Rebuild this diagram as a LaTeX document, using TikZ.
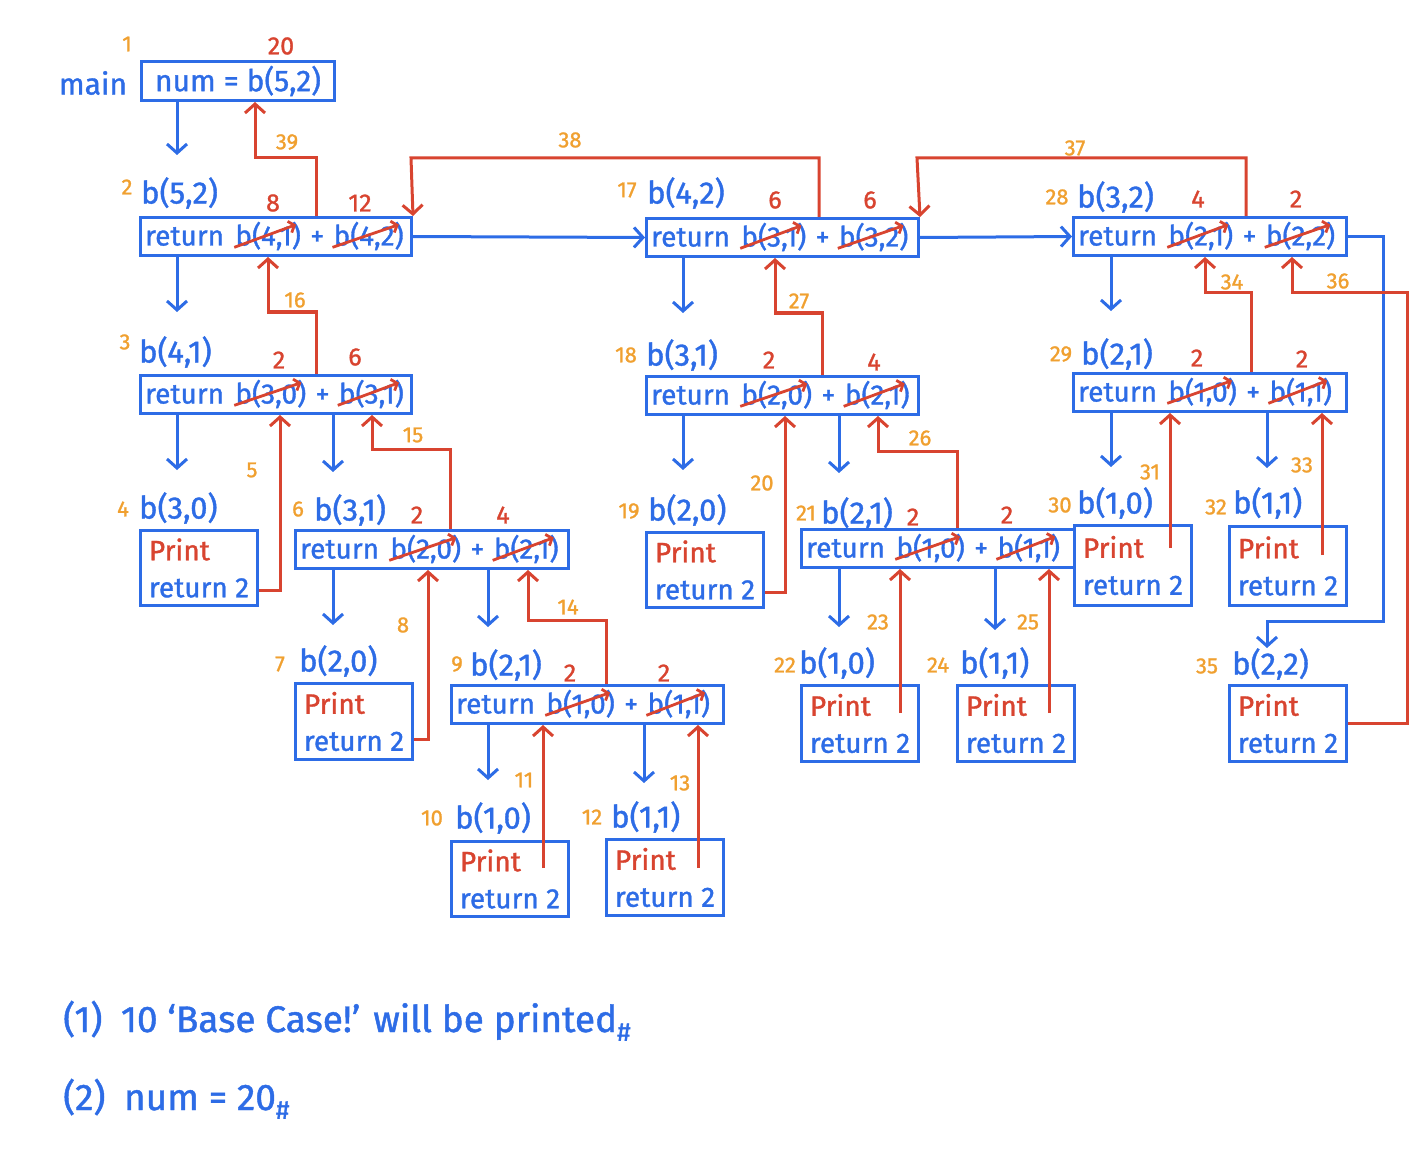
\documentclass[tikz,border=0pt]{standalone}
\usepackage{fontspec}
\setmainfont{Fira Sans}[FakeBold=1.2]
\usetikzlibrary{arrows.meta}
\definecolor{pblue}{RGB}{45,108,230}
\definecolor{pred}{RGB}{216,68,48}
\definecolor{porange}{RGB}{240,160,48}
\newcommand\mkcall[6]{%
  \node[cbox, minimum width=#4pt] (#1) at (#2,#3) {};
  \node[ctext] (#1r) at ([xshift=6pt,yshift=-9pt]#1.west) {return};
  \node[ctext] (#1a) at ([xshift=11pt]#1r.base east) {b(#5)};
  \node[ctext] (#1p) at ([xshift=9pt]#1a.base east) {+};
  \node[ctext] (#1b) at ([xshift=9pt]#1p.base east) {b(#6)};
  \draw[strike] ([xshift=-1pt,yshift=3pt]#1a.south west) -- ([xshift=-5pt,yshift=-3pt]#1a.north east);
  \draw[strike] ([xshift=-1pt,yshift=3pt]#1b.south west) -- ([xshift=-5pt,yshift=-3pt]#1b.north east);
}
\newcommand\mkprint[5]{%
  \node[pbox, minimum width=#4pt, minimum height=#5pt] (#1) at (#2,#3) {\textcolor{pred}{Print}\\return 2};
}
\begin{document}
\begin{tikzpicture}[x=1pt,y=-1pt,
  cbox/.style={draw=pblue, line width=3pt, inner sep=0pt, minimum height=38pt, anchor=north west, text=pblue, font=\fontsize{28}{30}\selectfont},
  ctext/.style={text=pblue, font=\fontsize{28}{30}\selectfont, inner sep=0pt, anchor=base west},
  pbox/.style={draw=pblue, line width=3pt, inner sep=0pt, anchor=north west, align=left, text=pblue, font=\fontsize{28}{37}\selectfont},
  hdr/.style={text=pblue, font=\fontsize{31}{33}\selectfont, inner sep=0pt, anchor=west},
  stp/.style={text=porange, font=\fontsize{22}{24}\selectfont, inner sep=0pt},
  res/.style={text=pred, font=\fontsize{25}{27}\selectfont, inner sep=0pt},
  note/.style={text=pblue, font=\fontsize{37}{40}\selectfont, inner sep=0pt, anchor=base west},
  callarr/.style={draw=pblue, line width=3pt, -{Straight Barb[length=9pt,width=20pt]}},
  retarr/.style={draw=pred, line width=3pt, -{Straight Barb[length=9pt,width=20pt]}},
  strike/.style={draw=pred, line width=2.8pt, -{Straight Barb[length=5pt,width=12pt]}}
]
\useasboundingbox (0,0) rectangle (1424,1150);

% ---------- main ----------
\node[cbox, minimum width=193pt, minimum height=39pt, font=\fontsize{30}{32}\selectfont] (main) at (140,60) {num = b(5,2)};
\node[hdr, anchor=center, font=\fontsize{30}{32}\selectfont] (mainlbl) at (93,83) {main};
\node[stp] (n1) at (127,44) {1};
\node[res] (v1) at (281,46) {20};

% ---------- call boxes ----------
\mkcall{B2}{139}{216}{271}{4,1}{4,2}
\mkcall{B17}{645}{217}{272}{3,1}{3,2}
\mkcall{B28}{1072}{216}{273}{2,1}{2,2}
\mkcall{B3}{139}{374}{271}{3,0}{3,1}
\mkcall{B18}{645}{375}{272}{2,0}{2,1}
\mkcall{B29}{1072}{372}{273}{1,0}{1,1}
\mkcall{B6}{294}{529}{273}{2,0}{2,1}
\mkcall{B21}{800}{528}{273}{1,0}{1,1}
\mkcall{B9}{450}{684}{272}{1,0}{1,1}

% ---------- print boxes ----------
\mkprint{B4}{139}{529}{117}{75}
\mkprint{B19}{645}{531}{117}{75}
\mkprint{B30}{1073}{524}{117}{80}
\mkprint{B32}{1228}{525}{117}{79}
\mkprint{B7}{294}{682}{117}{76}
\mkprint{B22}{800}{684}{117}{76}
\mkprint{B24}{956}{684}{117}{76}
\mkprint{B35}{1228}{684}{117}{76}
\mkprint{B10}{450}{840}{117}{75}
\mkprint{B12}{605}{838}{117}{76}

% ---------- headers ----------
\node[hdr] (H2) at (141,193) {b(5,2)};   \node[stp] (n2) at (127,187) {2};
\node[hdr] (H17) at (647,193) {b(4,2)};  \node[stp] (n17) at (627,190) {17};
\node[hdr] (H28) at (1077,197) {b(3,2)}; \node[stp] (n28) at (1057,197) {28};
\node[hdr] (H3) at (139,352) {b(4,1)};   \node[stp] (n3) at (125,342) {3};
\node[hdr] (H18) at (646,355) {b(3,1)};  \node[stp] (n18) at (626,355) {18};
\node[hdr] (H29) at (1081,354) {b(2,1)}; \node[stp] (n29) at (1061,354) {29};
\node[hdr] (H4) at (139,508) {b(3,0)};   \node[stp] (n4) at (123,509) {4};
\node[hdr] (H6) at (314,510) {b(3,1)};   \node[stp] (n6) at (298,509) {6};
\node[hdr] (H19) at (648,510) {b(2,0)};  \node[stp] (n19) at (629,511) {19};
\node[hdr] (H21) at (821,513) {b(2,1)};  \node[stp] (n21) at (806,513) {21};
\node[hdr] (H30) at (1077,503) {b(1,0)}; \node[stp] (n30) at (1060,505) {30};
\node[hdr] (H32) at (1233,503) {b(1,1)}; \node[stp] (n32) at (1216,507) {32};
\node[hdr] (H7) at (299,661) {b(2,0)};   \node[stp] (n7) at (280,664) {7};
\node[hdr] (H9) at (470,665) {b(2,1)};   \node[stp] (n9) at (457,664) {9};
\node[hdr] (H22) at (799,663) {b(1,0)};  \node[stp] (n22) at (785,665) {22};
\node[hdr] (H24) at (960,663) {b(1,1)};  \node[stp] (n24) at (938,665) {24};
\node[hdr] (H35) at (1232,664) {b(2,2)}; \node[stp] (n35) at (1207,666) {35};
\node[hdr] (H10) at (455,818) {b(1,0)};  \node[stp] (n10) at (432,818) {10};
\node[hdr] (H12) at (611,817) {b(1,1)};  \node[stp] (n12) at (592,817) {12};

% ---------- returned values ----------
\node[res] (v2a) at (273,203) {8};    \node[res] (v2b) at (360,203) {12};
\node[res] (v17a) at (775,200) {6};   \node[res] (v17b) at (870,200) {6};
\node[res] (v28a) at (1198,199) {4};  \node[res] (v28b) at (1296,199) {2};
\node[res] (v3a) at (279,360) {2};    \node[res] (v3b) at (355,357) {6};
\node[res] (v18a) at (769,360) {2};   \node[res] (v18b) at (874,362) {4};
\node[res] (v29a) at (1197,358) {2};  \node[res] (v29b) at (1302,359) {2};
\node[res] (v6a) at (417,515) {2};    \node[res] (v6b) at (503,515) {4};
\node[res] (v21a) at (913,517) {2};   \node[res] (v21b) at (1007,515) {2};
\node[res] (v9a) at (570,673) {2};    \node[res] (v9b) at (664,673) {2};

% ---------- call arrows ----------
\draw[callarr] (main.south -| 177,0) -- (177,155);
\draw[callarr] (B2.south -| 177,0) -- (177,312);
\draw[callarr] (B2.east) -- (B17.west);
\draw[callarr] (B17.east) -- (B28.west);
\draw[callarr] (B28.east) -| (1383,621) -| (1267,648);
\draw[callarr] (B17.south -| 683,0) -- (683,313);
\draw[callarr] (B28.south -| 1111,0) -- (1111,311);
\draw[callarr] (B3.south -| 177,0) -- (177,470);
\draw[callarr] (B3.south -| 333,0) -- (333,472);
\draw[callarr] (B18.south -| 683,0) -- (683,470);
\draw[callarr] (B18.south -| 839,0) -- (839,473);
\draw[callarr] (B29.south -| 1111,0) -- (1111,467);
\draw[callarr] (B29.south -| 1267,0) -- (1267,468);
\draw[callarr] (B6.south -| 333,0) -- (333,625);
\draw[callarr] (B6.south -| 488,0) -- (488,627);
\draw[callarr] (B21.south -| 839,0) -- (839,627);
\draw[callarr] (B21.south -| 995,0) -- (995,630);
\draw[callarr] (B9.south -| 488,0) -- (488,780);
\draw[callarr] (B9.south -| 644,0) -- (644,783);

% ---------- return arrows ----------
\draw[retarr] (B2.north -| 316,0) |- (255,158) -- (main.south -| 255,0);
\draw[retarr] (B17.north -| 819,0) |- (411,158) -- (B2.north east);
\draw[retarr] (B28.north -| 1246,0) |- (917,158) -- (B17.north east);
\draw[retarr] (B3.north -| 316,0) |- (268,312) -- (B2.south -| 268,0);
\draw[retarr] (B18.north -| 822,0) |- (775,313) -- (B17.south -| 775,0);
\draw[retarr] (B29.north -| 1251,0) |- (1205,293) -- (B28.south -| 1205,0);
\draw[retarr] (B35.east) -| (1407,293) -| (B28.south -| 1292,0);
\draw[retarr] (B4.east |- 0,590) -| (B3.south -| 280,0);
\draw[retarr] (B6.north -| 450,0) |- (372,449) -- (B3.south -| 372,0);
\draw[retarr] (B19.east |- 0,592) -| (B18.south -| 785,0);
\draw[retarr] (B21.north -| 957,0) |- (878,451) -- (B18.south -| 878,0);
\draw[retarr] (1170,548) -- (B29.south -| 1170,0);
\draw[retarr] (1322,555) -- (B29.south -| 1322,0);
\draw[retarr] (B7.east |- 0,739) -| (B6.south -| 428,0);
\draw[retarr] (B9.north -| 606,0) |- (528,620) -- (B6.south -| 528,0);
\draw[retarr] (900,713) -- (B21.south -| 900,0);
\draw[retarr] (1049,713) -- (B21.south -| 1049,0);
\draw[retarr] (543,868) -- (B9.south -| 543,0);
\draw[retarr] (698,868) -- (B9.south -| 698,0);

% ---------- step numbers on return arrows ----------
\node[stp] (s39) at (287,142) {39};
\node[stp] (s38) at (570,140) {38};
\node[stp] (s37) at (1075,148) {37};
\node[stp] (s16) at (295,300) {16};
\node[stp] (s27) at (799,301) {27};
\node[stp] (s34) at (1232,282) {34};
\node[stp] (s36) at (1338,281) {36};
\node[stp] (s5) at (252,470) {5};
\node[stp] (s15) at (413,435) {15};
\node[stp] (s20) at (762,483) {20};
\node[stp] (s26) at (920,438) {26};
\node[stp] (s31) at (1150,472) {31};
\node[stp] (s33) at (1302,465) {33};
\node[stp] (s8) at (403,625) {8};
\node[stp] (s14) at (568,607) {14};
\node[stp] (s23) at (878,622) {23};
\node[stp] (s25) at (1028,622) {25};
\node[stp] (s11) at (524,780) {11};
\node[stp] (s13) at (680,783) {13};

% ---------- answers ----------
\node[note] (ans1) at (63,1032) {(1)\enspace 10 `Base Case!' will be printed\textsubscript{\#}};
\node[note] (ans2) at (63,1110) {(2)\enspace num = 20\textsubscript{\#}};
\end{tikzpicture}
\end{document}
